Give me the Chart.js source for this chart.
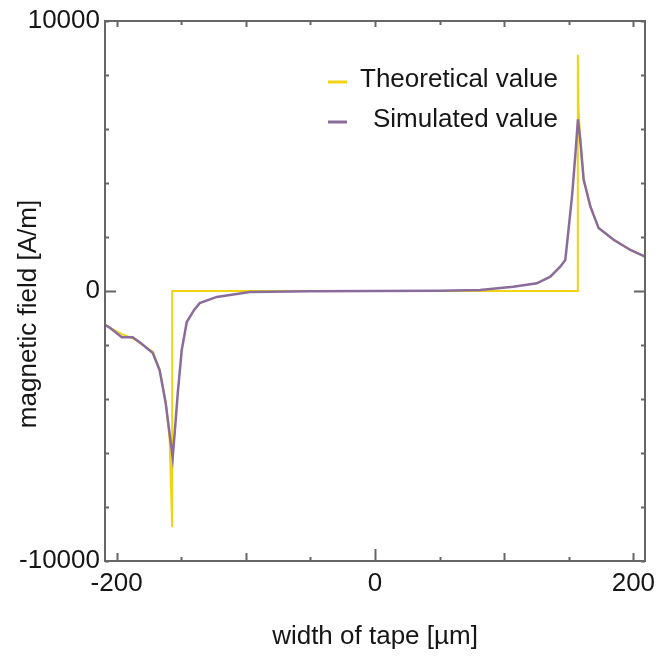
<!DOCTYPE html>
<html>
<head>
<meta charset="utf-8">
<script src="https://cdn.jsdelivr.net/npm/chart.js@4.4.1/dist/chart.umd.min.js"></script>
<style>
  html, body { margin: 0; padding: 0; background: #fff; }
  canvas { display: block; }
</style>
</head>
<body>
<canvas id="fieldChart" width="657" height="657"></canvas>
<script>
// --- data ---
const theoryX = [-209, -196, -187.6, -172, -166.7, -162, -159, -157, -157, 157, 157, 157.5, 158.9, 161.5, 166.7, 173.1, 184.7, 197.7, 209];
const theoryY = [-1250, -1600, -1750, -2250, -2900, -4100, -5500, -8750, 0, 0, 8750, 6800, 5600, 4130, 3130, 2330, 1900, 1520, 1270];

const simX = [-209, -204.7, -196, -187.6, -181.4, -172, -166.7, -162, -159, -156.6, -154.3, -152.7, -149.6, -145.7, -140, -135.7, -122.5, -96.9, -50, 0,
              50, 81.4, 107, 125.3, 135.7, 143.4, 147.3, 149.8, 152.5, 155, 157.1, 158.9, 161.5, 166.7, 173.1, 184.7, 197.7, 209];
const simY = [-1250, -1380, -1710, -1710, -1930, -2300, -2940, -4160, -5280, -6170, -4800, -3790, -2190, -1150, -700, -450, -220, -40, -10, 0,
              10, 37, 160, 286, 530, 900, 1150, 2270, 3500, 4990, 6360, 5610, 4130, 3130, 2330, 1900, 1520, 1270];

const seriesLabels = ['Theoretical value', 'Simulated value'];

const xTickValues = [-200, -150, -100, -50, 0, 50, 100, 150, 200];
const xTickLabels = [-200, 0, 200];
const yTickValues = [-10000, -8000, -6000, -4000, -2000, 0, 2000, 4000, 6000, 8000, 10000];
const yTickLabels = [-10000, 0, 10000];

const xTitle = 'width of tape [µm]';
const yTitle = 'magnetic field [A/m]';

// --- styling ---
const FONT = '"Liberation Sans", Arial, sans-serif';
const TEXT = '#161616';
const YELLOW = '#f0d414';
const PURPLE = '#8a6c9c';
const FRAME = '#666666';

const zip = (xs, ys) => xs.map((x, i) => ({ x, y: ys[i] }));

// box frame with inward ticks on all four sides
const framePlugin = {
    id: 'frame',
    afterDatasetsDraw(chart) {
        const { ctx, chartArea: a, scales } = chart;
        ctx.save();
        ctx.strokeStyle = FRAME;
        ctx.lineWidth = 2;
        ctx.strokeRect(a.left, a.top, a.right - a.left, a.bottom - a.top);

        ctx.beginPath();
        xTickValues.forEach(v => {
            const px = Math.round(scales.x.getPixelForValue(v)) + 0.5;
            const len = v === 0 ? 12 : (v % 100 === 0 ? 8 : 4);
            ctx.moveTo(px, a.bottom);
            ctx.lineTo(px, a.bottom - len);
            ctx.moveTo(px, a.top);
            ctx.lineTo(px, a.top + Math.min(len, 6));
        });
        yTickValues.forEach(v => {
            const py = Math.round(scales.y.getPixelForValue(v)) + 0.5;
            const len = v === 0 ? 11 : 4;
            ctx.moveTo(a.left, py);
            ctx.lineTo(a.left + len, py);
            ctx.moveTo(a.right, py);
            ctx.lineTo(a.right - len, py);
        });
        ctx.stroke();
        ctx.restore();
    }
};

// legend (right-aligned texts) and rotated y title
const overlayPlugin = {
    id: 'overlay',
    afterDraw(chart) {
        const { ctx } = chart;
        ctx.save();
        ctx.font = '26px ' + FONT;
        ctx.fillStyle = TEXT;

        const rows = [
            { color: YELLOW, label: seriesLabels[0], y: 80 },
            { color: PURPLE, label: seriesLabels[1], y: 120 },
        ];
        rows.forEach(r => {
            ctx.strokeStyle = r.color;
            ctx.lineWidth = 3;
            ctx.beginPath();
            ctx.moveTo(328, r.y + 2);
            ctx.lineTo(347, r.y + 2);
            ctx.stroke();
            ctx.textAlign = 'right';
            ctx.textBaseline = 'middle';
            ctx.fillText(r.label, 558, r.y);
        });

        ctx.translate(29, 314);
        ctx.rotate(-Math.PI / 2);
        ctx.textAlign = 'center';
        ctx.textBaseline = 'middle';
        ctx.fillText(yTitle, 0, 0);
        ctx.restore();
    }
};

new Chart(document.getElementById('fieldChart').getContext('2d'), {
    type: 'line',
    data: {
        datasets: [
            {
                label: seriesLabels[0],
                data: zip(theoryX, theoryY),
                borderColor: YELLOW,
                borderWidth: 2,
                order: 1,
            },
            {
                label: seriesLabels[1],
                data: zip(simX, simY),
                borderColor: PURPLE,
                borderWidth: 2.5,
                order: 0,
            },
        ]
    },
    options: {
        responsive: false,
        animation: false,
        layout: { padding: { top: 21, right: 12, left: 0, bottom: 0 } },
        elements: {
            point: { radius: 0 },
            line: { tension: 0, fill: false },
        },
        plugins: {
            legend: { display: false },
            tooltip: { enabled: false },
        },
        scales: {
            x: {
                type: 'linear',
                min: -209,
                max: 209,
                grid: { display: false, drawTicks: false },
                border: { display: false },
                afterBuildTicks: scale => { scale.ticks = xTickValues.map(value => ({ value })); },
                afterFit: scale => {
                    scale.height = 96;
                    scale.paddingLeft = 0;
                    scale.paddingRight = 0;
                },
                ticks: {
                    autoSkip: false,
                    maxRotation: 0,
                    padding: 7,
                    color: TEXT,
                    font: { family: FONT, size: 26 },
                    callback: v => xTickLabels.includes(v) ? String(v) : '',
                },
                title: {
                    display: true,
                    text: xTitle,
                    color: TEXT,
                    font: { family: FONT, size: 26 },
                    padding: { top: 0, bottom: 5 },
                },
            },
            y: {
                type: 'linear',
                min: -10000,
                max: 10000,
                grid: { display: false, drawTicks: false },
                border: { display: false },
                afterBuildTicks: scale => { scale.ticks = yTickValues.map(value => ({ value })); },
                afterFit: scale => {
                    scale.width = 105;
                    scale.paddingTop = 0;
                    scale.paddingBottom = 0;
                },
                ticks: {
                    autoSkip: false,
                    padding: 5,
                    color: TEXT,
                    font: { family: FONT, size: 26 },
                    callback: v => yTickLabels.includes(v) ? String(v) : '',
                },
            },
        },
    },
    plugins: [framePlugin, overlayPlugin],
});
</script>
</body>
</html>
